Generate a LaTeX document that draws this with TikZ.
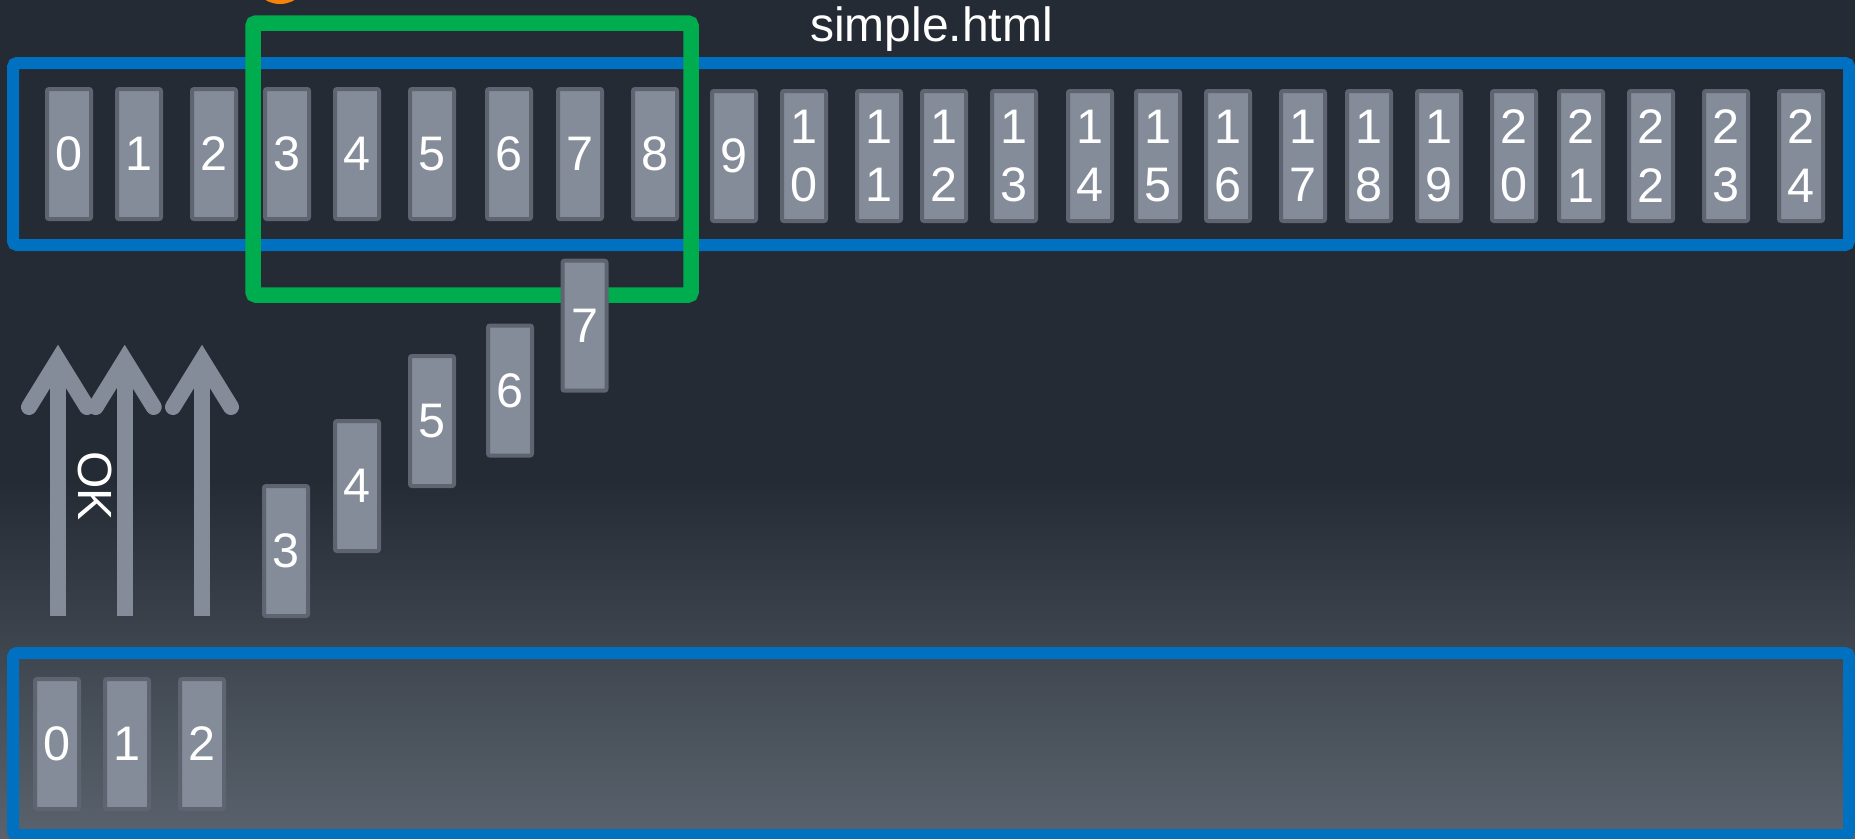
\documentclass[tikz,border=0pt]{standalone}
\usepackage{fontspec}
\setmainfont{Liberation Sans}
\definecolor{bgtop}{RGB}{37,43,52}
\definecolor{bgbot}{RGB}{90,99,109}
\definecolor{frameblue}{RGB}{0,112,192}
\definecolor{selgreen}{RGB}{0,173,78}
\definecolor{cellfill}{RGB}{132,140,153}
\definecolor{cellborder}{RGB}{94,100,112}
\definecolor{dotorange}{RGB}{245,130,10}
\begin{document}
\begin{tikzpicture}[x=1pt,y=-1pt,
  cell/.style={draw=cellborder, fill=cellfill, line width=4pt, rounded corners=2pt,
    minimum width=44pt, minimum height=130pt, inner sep=0pt, text=white,
    font=\fontsize{48.5}{58.3}\selectfont, align=center},
  frame/.style={draw=frameblue, line width=12pt, rounded corners=4pt},
  selbox/.style={draw=selgreen, line width=15.5pt, rounded corners=3pt},
  upshaft/.style={draw=cellfill, line width=16pt, line cap=butt},
  uphead/.style={draw=cellfill, line width=16pt, line cap=round, line join=miter},
  label/.style={text=white, inner sep=0pt, font=\fontsize{48}{58}\selectfont}
]
\useasboundingbox (0,0) rectangle (1855,838);
\clip (0,0) rectangle (1855,838);
% background
\fill[bgtop] (0,0) rectangle (1855,481);
\shade[top color=bgtop, bottom color=bgbot] (0,480) rectangle (1855,838);

% top frame
\draw[frame] (13,63) rectangle (1849,245);

% top row of cells
\node[cell] (t0) at (69,154) {0};
\node[cell] (t1) at (139,154) {1};
\node[cell] (t2) at (214,154) {2};
\node[cell] (t3) at (287,154) {3};
\node[cell] (t4) at (357,154) {4};
\node[cell] (t5) at (432,154) {5};
\node[cell] (t6) at (509,154) {6};
\node[cell] (t7) at (580,154) {7};
\node[cell] (t8) at (655,154) {8};
\node[cell] (t9) at (734,156) {9};
\node[cell] (t10) at (804,156) {1\\0};
\node[cell] (t11) at (879,156) {1\\1};
\node[cell] (t12) at (944,156) {1\\2};
\node[cell] (t13) at (1014,156) {1\\3};
\node[cell] (t14) at (1090,156) {1\\4};
\node[cell] (t15) at (1158,156) {1\\5};
\node[cell] (t16) at (1228,156) {1\\6};
\node[cell] (t17) at (1303,156) {1\\7};
\node[cell] (t18) at (1369,156) {1\\8};
\node[cell] (t19) at (1439,156) {1\\9};
\node[cell] (t20) at (1514,156) {2\\0};
\node[cell] (t21) at (1581,156) {2\\1};
\node[cell] (t22) at (1651,156) {2\\2};
\node[cell] (t23) at (1726,156) {2\\3};
\node[cell] (t24) at (1801,156) {2\\4};

% green selection window
\draw[selbox] (253,23) rectangle (691,295);

% orange dot at the top edge
\fill[dotorange] (280,-25) circle (29pt);

% title
\node[label, anchor=base west] (title) at (810,41.7) {simple.html};

% staircase of cells in flight
\node[cell] (m3) at (286,551) {3};
\node[cell] (m4) at (357,486) {4};
\node[cell] (m5) at (432,421) {5};
\node[cell] (m6) at (510,390.5) {6};
\node[cell] (m7) at (584.5,325.7) {7};

% arrows (acknowledged)
\foreach \k/\ax in {1/58,2/124.7,3/202}{
  \coordinate (ab\k) at (\ax,616);
  \coordinate (at\k) at (\ax,360);
  \draw[upshaft] (ab\k) -- (at\k);
  \draw[uphead] ([xshift=-29pt,yshift=-47pt]at\k) -- (at\k) -- ([xshift=29pt,yshift=-47pt]at\k);
}
\node[label, rotate=-90] (ok) at (95,486) {OK};

% bottom frame
\draw[frame] (13,653) rectangle (1849,835);
\node[cell] (b0) at (57,744) {0};
\node[cell] (b1) at (127,744) {1};
\node[cell] (b2) at (202,744) {2};
\end{tikzpicture}
\end{document}
